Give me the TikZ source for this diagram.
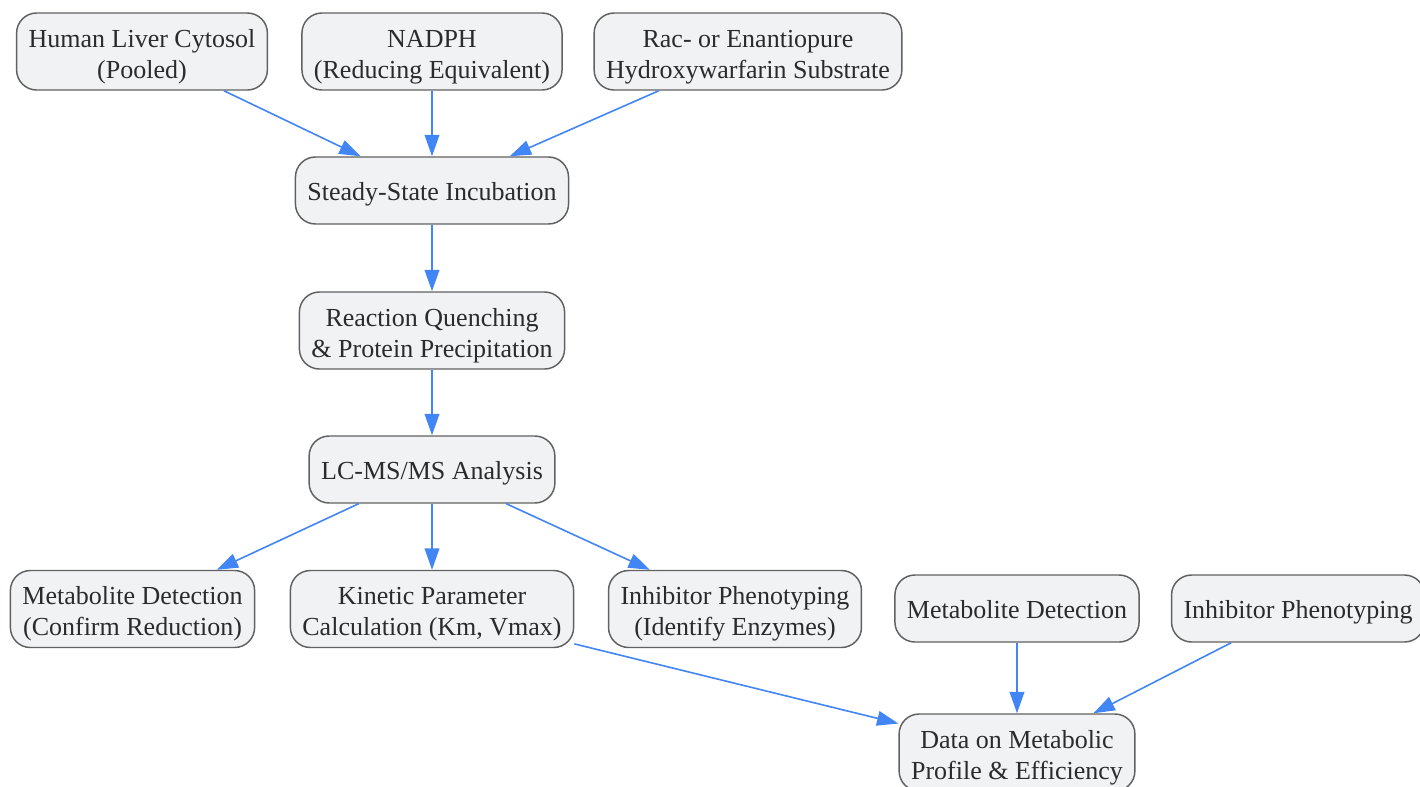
\documentclass[tikz,border=0pt]{standalone}
\usepackage{fontspec}
\setmainfont{Liberation Serif}
\usetikzlibrary{arrows.meta}
\definecolor{boxfill}{HTML}{F1F2F4}
\definecolor{boxline}{HTML}{616161}
\definecolor{flowblue}{HTML}{4285F4}
\definecolor{txt}{HTML}{2B2B2B}
\begin{document}
\begin{tikzpicture}[x=0.75pt, y=-0.75pt,
  box/.style={draw=boxline, fill=boxfill, line width=1.1pt, rounded corners=15pt,
    align=center, text=txt, inner xsep=9pt, inner ysep=0pt, minimum height=50.25pt,
    font=\fontsize{19.5pt}{23.25pt}\selectfont, text height=19.5pt, text depth=4.2pt},
  boxtwo/.style={box, minimum height=57.75pt, text height=44pt, text depth=4.2pt},
  flow/.style={draw=flowblue, line width=1.2pt, -{Triangle[length=16pt,width=11pt]}}]
\useasboundingbox (0,0) rectangle (1420,786);
\node[boxtwo] (cyt) at (142,51.5){Human Liver Cytosol\\(Pooled)};
\node[boxtwo] (nad) at (432,51.5){NADPH\\(Reducing Equivalent)};
\node[boxtwo] (sub) at (748,51.5){Rac- or Enantiopure\\Hydroxywarfarin Substrate};
\node[box] (inc) at (432,190.5){Steady-State Incubation};
\node[boxtwo] (que) at (432,330.5){Reaction Quenching\\\& Protein Precipitation};
\node[box] (lcms) at (432,469.5){LC-MS/MS Analysis};
\node[boxtwo] (det1) at (132.5,609){Metabolite Detection\\(Confirm Reduction)};
\node[boxtwo] (kin) at (432,609){Kinetic Parameter\\Calculation (Km, Vmax)};
\node[boxtwo] (inh1) at (735,609){Inhibitor Phenotyping\\(Identify Enzymes)};
\node[box] (det2) at (1017,608.5){Metabolite Detection};
\node[box] (inh2) at (1298,608.5){Inhibitor Phenotyping};
\node[boxtwo] (dat) at (1017,752.5){Data on Metabolic\\Profile \& Efficiency};
\draw[flow](cyt) -- (inc);
\draw[flow](nad) -- (inc);
\draw[flow](sub) -- (inc);
\draw[flow](inc) -- (que);
\draw[flow](que) -- (lcms);
\draw[flow](lcms) -- (det1);
\draw[flow](lcms) -- (kin);
\draw[flow](lcms) -- (inh1);
\draw[flow](kin) -- (dat);
\draw[flow](det2) -- (dat);
\draw[flow](inh2) -- (dat);
\end{tikzpicture}
\end{document}
